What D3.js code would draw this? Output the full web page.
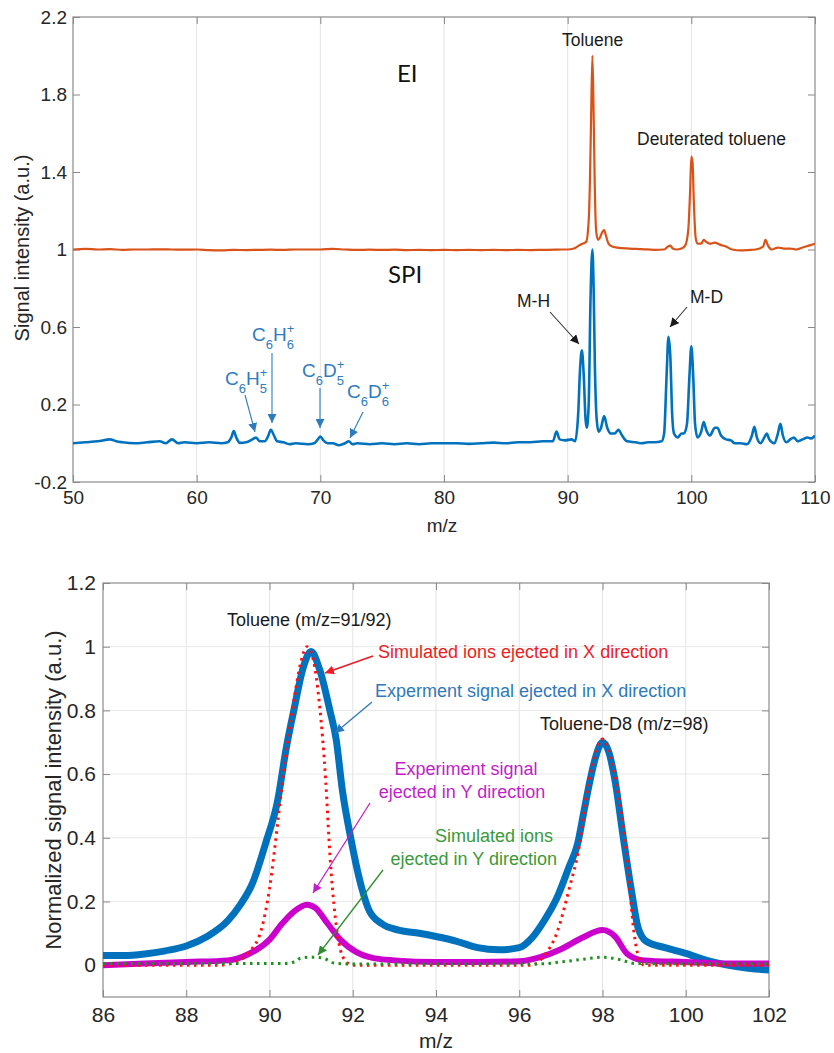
<!DOCTYPE html>
<html><head><meta charset="utf-8">
<script src="https://cdn.jsdelivr.net/npm/d3@7"></script>
<style>
body{margin:0;background:#fff}
text{font-family:"Liberation Sans",Arial,sans-serif}
</style>
</head><body>
<svg id="chart" width="834" height="1053"></svg>
<script>
// ---------------- DATA ----------------
const topXTicks = [50, 60, 70, 80, 90, 100, 110];
const topYTicks = [-0.2, 0.2, 0.6, 1, 1.4, 1.8, 2.2];

const eiMz = [50,51,52,53,54,55,56,57,58,59,60,61,62,63,64,65,66,67,68,69,70,71,72,73,74,75,76,77,78,79,80,81,82,83,84,85,86,87,88,89,89.5,90,90.5,90.9,91.2,91.5,91.7,91.8,91.9,92.0,92.1,92.2,92.3,92.45,92.6,92.8,92.95,93.1,93.3,93.6,94,95,96,97,97.8,98.1,98.3,98.5,98.8,99.2,99.5,99.75,99.9,100.0,100.1,100.2,100.35,100.5,100.8,101.0,101.2,101.5,101.9,102.3,102.8,103.3,104,104.6,105.2,105.8,106.0,106.2,106.5,107,107.5,108,108.5,109,109.5,110];
const eiSignal = [1.0,1.003,1.0,1.002,0.998,1.0,1.0,1.001,1.0,0.999,1.0,0.997,0.996,0.998,0.997,0.998,0.999,0.998,1.0,1.0,1.0,1.003,1.0,0.998,0.999,0.998,0.999,0.997,0.998,0.997,0.998,0.997,0.998,0.997,0.998,0.997,0.998,0.997,0.998,0.999,1.0,1.0,1.005,1.02,1.03,1.04,1.15,1.35,1.7,2.0,1.7,1.3,1.1,1.05,1.06,1.09,1.1,1.07,1.03,1.015,1.01,1.005,1.002,0.998,1.0,1.015,1.02,1.005,1.0,1.005,1.02,1.1,1.3,1.48,1.45,1.25,1.06,1.03,1.03,1.05,1.04,1.03,1.035,1.025,1.015,1.0,0.995,0.997,1.0,1.015,1.05,1.02,1.0,1.01,1.005,1.005,1.0,1.01,1.02,1.03];

const spiMz = [50,51,52,53,53.5,54,55,56,57,57.5,58,58.5,59,60,61,62,62.5,62.8,63.0,63.2,63.5,64.0,64.5,64.8,65.1,65.5,65.8,66.0,66.25,66.5,67,67.5,68,69,69.5,69.8,70.0,70.25,70.6,71,71.5,72,72.3,72.6,73,74,75,76,77,78,79,80,81,82,83,84,85,86,87,88,88.8,89.1,89.35,89.8,90.3,90.6,90.85,91.0,91.15,91.3,91.45,91.55,91.7,91.85,92.0,92.1,92.2,92.35,92.5,92.7,92.95,93.2,93.5,93.8,94.1,94.4,94.8,95.5,96,96.5,97,97.6,97.8,98.0,98.15,98.3,98.45,98.6,98.9,99.2,99.4,99.65,99.85,100.0,100.15,100.3,100.5,100.8,101.0,101.2,101.5,101.9,102.1,102.4,102.8,103.2,103.5,104,104.5,104.9,105.1,105.3,105.6,105.9,106.1,106.3,106.7,107.0,107.2,107.4,107.7,108.0,108.3,108.6,109,109.4,109.7,110];
const spiSignal = [0.0,0.005,0.01,0.02,0.01,0.005,0.0,0.005,0.01,0.0,0.02,0.0,0.005,0.0,0.005,0.0,0.005,0.03,0.063,0.03,0.002,0.005,0.02,0.03,0.01,0.01,0.04,0.07,0.04,0.01,0.005,-0.005,0.0,-0.005,0.0,0.02,0.035,0.015,0.0,0.0,-0.01,0.0,0.01,-0.005,0.0,-0.005,0.0,-0.005,0.0,-0.005,0.0,0.0,0.0,-0.003,0.0,0.003,0.0,0.005,0.005,0.01,0.01,0.06,0.02,0.015,0.02,0.01,0.15,0.38,0.48,0.35,0.12,0.08,0.2,0.75,1.0,0.8,0.4,0.12,0.06,0.08,0.14,0.08,0.05,0.05,0.07,0.04,0.01,0.005,0.0,0.005,0.005,0.01,0.05,0.35,0.55,0.45,0.15,0.05,0.03,0.05,0.05,0.1,0.35,0.5,0.35,0.1,0.03,0.06,0.11,0.07,0.04,0.08,0.08,0.04,0.02,0.015,0.0,0.0,-0.005,0.04,0.085,0.03,0.0,0.03,0.05,0.02,0.0,0.05,0.1,0.04,0.005,0.02,0.03,0.01,0.02,0.03,0.025,0.04];

const botXTicks = [86, 88, 90, 92, 94, 96, 98, 100, 102];
const botYTicks = [0, 0.2, 0.4, 0.6, 0.8, 1, 1.2];

const expXMz = [86,86.5,87,87.5,88,88.5,89,89.3,89.6,89.9,90.2,90.4,90.6,90.8,91.0,91.2,91.45,91.6,91.75,91.95,92.2,92.4,92.7,93.1,93.6,94,94.5,95,95.5,96,96.3,96.6,96.9,97.2,97.4,97.55,97.7,97.85,98.0,98.15,98.3,98.5,98.7,98.85,99.05,99.5,100,100.5,101,101.5,102];
const expXSignal = [0.03,0.03,0.035,0.045,0.06,0.09,0.14,0.19,0.26,0.38,0.52,0.68,0.81,0.93,0.985,0.93,0.8,0.71,0.55,0.40,0.25,0.17,0.13,0.11,0.1,0.09,0.075,0.055,0.048,0.055,0.085,0.14,0.21,0.31,0.38,0.48,0.58,0.66,0.70,0.67,0.58,0.40,0.23,0.12,0.075,0.055,0.037,0.015,0.0,-0.01,-0.015];

const simXMz = [86,88.8,89.2,89.5,89.8,90.0,90.2,90.35,90.55,90.75,90.9,91.05,91.2,91.35,91.45,91.58,91.7,91.85,92,96.3,96.6,96.9,97.2,97.45,97.6,97.8,98.0,98.2,98.4,98.6,98.75,98.88,99.0,102];
const simXSignal = [0,0,0.01,0.04,0.11,0.24,0.45,0.62,0.8,0.95,1.0,0.96,0.82,0.58,0.35,0.15,0.05,0.01,0,0,0.03,0.1,0.24,0.38,0.52,0.65,0.71,0.65,0.52,0.32,0.11,0.02,0,0];

const expYMz = [86,87,88,89,89.5,90,90.3,90.6,90.9,91.1,91.4,91.7,92.1,92.5,93,94,95,96,96.5,97,97.5,98,98.3,98.6,99,100,101,102];
const expYSignal = [0.0,0.005,0.01,0.015,0.035,0.08,0.13,0.17,0.19,0.18,0.13,0.08,0.04,0.022,0.015,0.01,0.01,0.012,0.025,0.05,0.085,0.11,0.09,0.035,0.015,0.01,0.005,0.005];

const simYMz = [86,90.3,90.6,90.75,91.0,91.3,91.5,91.8,96.5,97,97.5,98,98.4,98.8,102];
const simYSignal = [0.005,0.005,0.01,0.022,0.025,0.022,0.008,0.004,0.004,0.01,0.018,0.025,0.018,0.005,0.004];

// ---------------- DRAW ----------------
const svg = d3.select("#chart");
svg.append("rect").attr("width",834).attr("height",1053).attr("fill","#fff");
const defs = svg.append("defs");
function marker(id, color){
  defs.append("marker").attr("id",id).attr("viewBox","0 0 10 10").attr("refX",10).attr("refY",5)
    .attr("markerWidth",9).attr("markerHeight",9).attr("markerUnits","userSpaceOnUse").attr("orient","auto")
    .append("path").attr("d","M0,0 L10,5 L0,10 Z").attr("fill",color);
}
const cBlack="#1a1a1a", cChem="#2f7cbd", cRed="#ee1c25", cBlueT="#2f78bb", cMag="#c21fc8", cGreenT="#3a9a3a";
marker("mBlack",cBlack); marker("mChem",cChem); marker("mRed",cRed); marker("mBlue",cBlueT); marker("mMag",cMag); marker("mGreen","#2f8f2f");

function arrow(x1,y1,x2,y2,color,m,w){
  svg.append("line").attr("x1",x1).attr("y1",y1).attr("x2",x2).attr("y2",y2)
    .attr("stroke",color).attr("stroke-width",w||1.1).attr("marker-end",`url(#${m})`);
}
function zip(a,b){return a.map((v,i)=>[v,b[i]]);}

function frame(x, y, xTicks, yTicks, opts){
  const [x0,x1]=x.range(), [y0,y1]=y.range();
  const g = svg.append("g");
  // grid
  xTicks.forEach(t=>{ if(t!==xTicks[0] && t!==xTicks[xTicks.length-1])
    g.append("line").attr("x1",x(t)).attr("x2",x(t)).attr("y1",y1).attr("y2",y0).attr("stroke","#e3e3e3").attr("stroke-width",1);});
  if(opts.hgrid) yTicks.forEach(t=>{ if(t!==yTicks[0] && t!==yTicks[yTicks.length-1])
    g.append("line").attr("x1",x0).attr("x2",x1).attr("y1",y(t)).attr("y2",y(t)).attr("stroke","#e8e8e8").attr("stroke-width",1);});
  const tl=7;
  const ax = (axis, tr) => {
    const a = g.append("g").attr("transform",tr).call(axis);
    a.select(".domain").remove();
    a.selectAll(".tick line").attr("stroke","#888");
    a.selectAll("text").attr("fill","#262626").style("font-family",'"Liberation Sans",Arial,sans-serif').style("font-size",opts.fs+"px");
    return a;
  };
  ax(d3.axisBottom(x).tickValues(xTicks).tickSize(-tl).tickPadding(opts.xpad).tickFormat(d=>String(d)), `translate(0,${y0})`);
  ax(d3.axisTop(x).tickValues(xTicks).tickSize(-tl).tickFormat(""), `translate(0,${y1})`);
  ax(d3.axisLeft(y).tickValues(yTicks).tickSize(-tl).tickPadding(opts.ypad).tickFormat(d=>String(d)), `translate(${x0},0)`);
  ax(d3.axisRight(y).tickValues(yTicks).tickSize(-tl).tickFormat(""), `translate(${x1},0)`);
  g.append("rect").attr("x",x0).attr("y",y1).attr("width",x1-x0).attr("height",y0-y1)
    .attr("fill","none").attr("stroke","#8a8a8a").attr("stroke-width",1.2);
  return g;
}

// ===== TOP CHART =====
const xT = d3.scaleLinear().domain([50,110]).range([73,815]);
const yT = d3.scaleLinear().domain([-0.2,2.2]).range([482,17]);
defs.append("clipPath").attr("id","clipT").append("rect").attr("x",73).attr("y",17).attr("width",742).attr("height",465);
frame(xT,yT,topXTicks,topYTicks,{hgrid:false,fs:19,xpad:9,ypad:6});
const lineT = d3.line().x(d=>xT(d[0])).y(d=>yT(d[1])).curve(d3.curveMonotoneX);
const gT = svg.append("g").attr("clip-path","url(#clipT)");
gT.append("path").datum(zip(eiMz,eiSignal)).attr("d",lineT).attr("fill","none").attr("stroke","#D95319").attr("stroke-width",2.2).attr("stroke-linejoin","round");
gT.append("path").datum(zip(spiMz,spiSignal)).attr("d",lineT).attr("fill","none").attr("stroke","#0072BD").attr("stroke-width",2.6).attr("stroke-linejoin","round");

svg.append("text").attr("x",442).attr("y",532).attr("text-anchor","middle").attr("fill","#262626").style("font-size","19px").text("m/z");
svg.append("text").attr("transform","translate(29,248) rotate(-90)").attr("text-anchor","middle").attr("fill","#262626").style("font-size","20px").text("Signal intensity (a.u.)");

const big = {"font-family":"Lato, 'Open Sans', sans-serif","font-size":"24px"};
svg.append("text").attr("x",397).attr("y",82).attr("fill","#111").style("font-family","Lato, sans-serif").style("font-size","24px").text("EI");
svg.append("text").attr("x",388).attr("y",283).attr("fill","#111").style("font-family","Lato, sans-serif").style("font-size","24px").text("SPI");

function ann(x,y,txt,color,fs,anchor){
  svg.append("text").attr("x",x).attr("y",y).attr("fill",color).attr("text-anchor",anchor||"start").style("font-size",fs+"px").text(txt);
}
ann(562,46,"Toluene",cBlack,17.5);
ann(637,145,"Deuterated toluene",cBlack,17.5);
ann(517,307,"M-H",cBlack,17.5);
ann(690,303,"M-D",cBlack,17.5);
arrow(550,312,579,344,"#333","mBlack",1.1);
arrow(687,307,670,327,"#333","mBlack",1.1);

// chemical labels: main letters with subscripts / stacked super+subscript
function chem(x,y,el1,n1,el2,n2){
  const fsM=19, fsS=13;
  const g = svg.append("g").attr("fill",cChem);
  let cx = x;
  const put=(t,dx,dy,fs)=>{const e=g.append("text").attr("x",cx+dx).attr("y",y+dy).style("font-size",fs+"px").text(t);return e.node().getComputedTextLength();};
  cx += put(el1,0,0,fsM);
  cx += put(n1,0,8,fsS);
  cx += put(el2,0,0,fsM);
  const w1 = put("+",0,-8,fsS);
  const w2 = put(n2,0,8,fsS);
}
chem(225,385,"C","6","H","5");
chem(252,341,"C","6","H","6");
chem(302,377,"C","6","D","5");
chem(347,398,"C","6","D","6");
arrow(245,395,255,432,cChem,"mChem",1.1);
arrow(272,353,272,423,cChem,"mChem",1.1);
arrow(320,388,320,428,cChem,"mChem",1.1);
arrow(363,412,350,438,cChem,"mChem",1.1);

// ===== BOTTOM CHART =====
const xB = d3.scaleLinear().domain([86,102]).range([103,769]);
const yB = d3.scaleLinear().domain([-0.1,1.2]).range([997,583]);
defs.append("clipPath").attr("id","clipB").append("rect").attr("x",103).attr("y",583).attr("width",666).attr("height",414);
frame(xB,yB,botXTicks,botYTicks,{hgrid:true,fs:21,xpad:10,ypad:7});
const lineB = d3.line().x(d=>xB(d[0])).y(d=>yB(d[1])).curve(d3.curveMonotoneX);
const gB = svg.append("g").attr("clip-path","url(#clipB)");
gB.append("path").datum(zip(expXMz,expXSignal)).attr("d",lineB).attr("fill","none").attr("stroke","#0072BD").attr("stroke-width",7).attr("stroke-linejoin","round");
gB.append("path").datum(zip(expYMz,expYSignal)).attr("d",lineB).attr("fill","none").attr("stroke","#CC00CC").attr("stroke-width",6).attr("stroke-linejoin","round");
gB.append("path").datum(zip(simXMz,simXSignal)).attr("d",lineB).attr("fill","none").attr("stroke","#FF1010").attr("stroke-width",3).attr("stroke-dasharray","2.5,4.5");
gB.append("path").datum(zip(simYMz,simYSignal)).attr("d",lineB).attr("fill","none").attr("stroke","#1f8f1f").attr("stroke-width",3).attr("stroke-dasharray","2.5,4.5");

svg.append("text").attr("x",436).attr("y",1048).attr("text-anchor","middle").attr("fill","#262626").style("font-size","21px").text("m/z");
svg.append("text").attr("transform","translate(61,790) rotate(-90)").attr("text-anchor","middle").attr("fill","#262626").style("font-size","22px").text("Normalized signal intensity (a.u.)");

ann(227,626,"Toluene (m/z=91/92)",cBlack,18);
ann(378,658,"Simulated ions ejected in X direction",cRed,18);
ann(375,697,"Experment signal ejected in X direction",cBlueT,18);
ann(540,730,"Toluene-D8 (m/z=98)",cBlack,18);
ann(466,775,"Experiment signal",cMag,18,"middle");
ann(462,798,"ejected in Y direction",cMag,18,"middle");
ann(553,842,"Simulated ions",cGreenT,18,"end");
ann(557,865,"ejected in Y direction",cGreenT,18,"end");
arrow(373,656,325,673,cRed,"mRed",1.6);
arrow(372,702,335,733,cBlueT,"mBlue",1.3);
arrow(370,803,313,893,cMag,"mMag",1.3);
arrow(383,870,318,955,"#2f8f2f","mGreen",1.3);
</script>
</body></html>
